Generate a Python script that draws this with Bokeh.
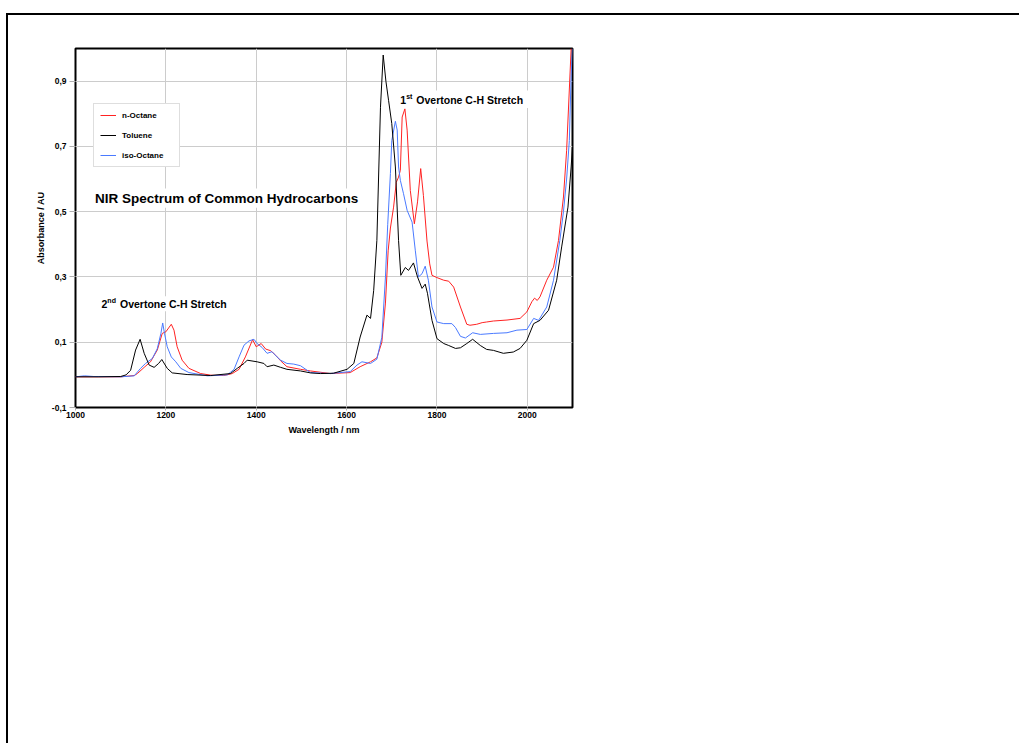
from bokeh.plotting import figure
from bokeh.models import (Range1d, FixedTicker, CustomJSTickFormatter, Label,
                          Legend, LegendItem, BoxAnnotation)
from bokeh.embed import file_html
from bokeh.resources import INLINE

# ---------------- data ----------------
series_names = ["n-Octane", "Toluene", "iso-Octane"]

noctane_wl = [1000, 1050, 1100, 1130, 1137, 1152, 1166, 1181, 1192, 1200,
              1212, 1218, 1225, 1236, 1251, 1277, 1300, 1328, 1347, 1362,
              1376, 1392, 1400, 1411, 1421, 1432, 1443, 1454, 1468, 1498,
              1520, 1564, 1608, 1630, 1653, 1667, 1678, 1686, 1692, 1697,
              1704, 1710, 1715, 1719, 1723, 1729, 1734, 1741, 1750, 1757,
              1764, 1770, 1778, 1784, 1789, 1800, 1815, 1826, 1837, 1852,
              1866, 1873, 1888, 1900, 1910, 1925, 1955, 1984, 1999, 2010,
              2016, 2022, 2028, 2043, 2058, 2069, 2080, 2087, 2097]
noctane_abs = [-0.006, -0.006, -0.006, -0.002, 0.004, 0.023, 0.040, 0.076, 0.127, 0.132,
               0.155, 0.137, 0.086, 0.045, 0.020, 0.004, -0.001, -0.002, 0.004, 0.017,
               0.055, 0.108, 0.086, 0.096, 0.079, 0.074, 0.060, 0.043, 0.025, 0.017,
               0.012, 0.004, 0.007, 0.025, 0.040, 0.052, 0.100, 0.220, 0.380, 0.450,
               0.514, 0.590, 0.606, 0.627, 0.790, 0.815, 0.750, 0.565, 0.463, 0.530,
               0.632, 0.550, 0.410, 0.340, 0.305, 0.298, 0.290, 0.287, 0.269, 0.208,
               0.155, 0.152, 0.155, 0.160, 0.162, 0.165, 0.168, 0.173, 0.193, 0.224,
               0.235, 0.228, 0.239, 0.290, 0.330, 0.412, 0.545, 0.688, 1.000]

toluene_wl = [1000, 1050, 1100, 1112, 1122, 1133, 1143, 1152, 1163, 1174,
              1184, 1191, 1203, 1214, 1247, 1299, 1343, 1358, 1373, 1380,
              1402, 1417, 1424, 1439, 1454, 1468, 1498, 1520, 1542, 1571,
              1601, 1616, 1630, 1645, 1653, 1660, 1667, 1675, 1681, 1687,
              1693, 1700, 1708, 1715, 1720, 1730, 1737, 1748, 1757, 1767,
              1774, 1779, 1789, 1800, 1815, 1826, 1841, 1852, 1866, 1879,
              1896, 1910, 1925, 1947, 1969, 1984, 1999, 2014, 2028, 2047,
              2065, 2076, 2090, 2097, 2100]
toluene_abs = [-0.006, -0.006, -0.005, 0.000, 0.014, 0.076, 0.109, 0.066, 0.030, 0.023,
               0.035, 0.047, 0.020, 0.006, 0.001, -0.002, 0.004, 0.020, 0.035, 0.045,
               0.040, 0.035, 0.025, 0.030, 0.023, 0.017, 0.012, 0.006, 0.004, 0.005,
               0.017, 0.035, 0.116, 0.183, 0.173, 0.259, 0.412, 0.820, 0.980, 0.900,
               0.840, 0.770, 0.637, 0.412, 0.305, 0.329, 0.320, 0.343, 0.300, 0.265,
               0.278, 0.250, 0.167, 0.111, 0.096, 0.090, 0.081, 0.083, 0.096, 0.109,
               0.090, 0.078, 0.075, 0.066, 0.070, 0.081, 0.106, 0.157, 0.167, 0.198,
               0.290, 0.392, 0.514, 0.637, 0.700]

isooctane_wl = [1000, 1020, 1040, 1100, 1130, 1144, 1155, 1170, 1181, 1189,
                1193, 1197, 1203, 1212, 1222, 1233, 1251, 1292, 1336, 1351,
                1362, 1373, 1384, 1395, 1402, 1413, 1424, 1435, 1446, 1454,
                1468, 1483, 1498, 1520, 1564, 1608, 1623, 1634, 1653, 1667,
                1678, 1686, 1691, 1697, 1700, 1708, 1712, 1715, 1719, 1726,
                1734, 1745, 1752, 1759, 1767, 1774, 1781, 1789, 1800, 1815,
                1833, 1841, 1852, 1863, 1879, 1896, 1925, 1955, 1977, 1999,
                2014, 2025, 2043, 2058, 2072, 2080, 2087, 2093, 2097, 2100]
isooctane_abs = [-0.006, -0.003, -0.005, -0.006, -0.003, 0.020, 0.035, 0.050, 0.080, 0.127,
                 0.159, 0.127, 0.086, 0.055, 0.040, 0.020, 0.007, -0.003, 0.000, 0.017,
                 0.055, 0.091, 0.104, 0.109, 0.096, 0.084, 0.066, 0.071, 0.055, 0.045,
                 0.035, 0.033, 0.028, 0.007, 0.004, 0.010, 0.030, 0.040, 0.035, 0.048,
                 0.115, 0.300, 0.460, 0.617, 0.718, 0.777, 0.750, 0.637, 0.596, 0.555,
                 0.504, 0.468, 0.382, 0.300, 0.310, 0.333, 0.290, 0.208, 0.162, 0.157,
                 0.157, 0.145, 0.118, 0.113, 0.129, 0.124, 0.127, 0.129, 0.137, 0.139,
                 0.173, 0.167, 0.208, 0.290, 0.412, 0.500, 0.600, 0.718, 0.920, 1.000]

x_ticks = [1000, 1200, 1400, 1600, 1800, 2000]
y_ticks = [-0.1, 0.1, 0.3, 0.5, 0.7, 0.9]

title_text = "NIR Spectrum of Common Hydrocarbons"
x_label = "Wavelength / nm"
y_label = "Absorbance / AU"
overtone_text = "Overtone C-H Stretch"

# ---------------- styling / layout ----------------
FONT = "Liberation Sans"
RED = "#ff2222"
BLACK = "#000000"
BLUE = "#4a7aff"

p = figure(width=1013, height=730,
           x_range=Range1d(1000, 2100), y_range=Range1d(-0.1, 1.0),
           output_backend="svg", toolbar_location=None,
           min_border_left=67, min_border_right=449,
           min_border_top=33, min_border_bottom=338)
# outer page frame (left and top edges visible in the reference)
p.styles = {"border-left": "2px solid black", "border-top": "2px solid black",
            "margin-left": "6px", "margin-top": "13px"}

p.background_fill_color = "white"
p.border_fill_color = "white"
p.outline_line_color = "black"
p.outline_line_width = 2

r_red = p.line(noctane_wl, noctane_abs, line_color=RED, line_width=1)
r_blue = p.line(isooctane_wl, isooctane_abs, line_color=BLUE, line_width=1)
r_black = p.line(toluene_wl, toluene_abs, line_color=BLACK, line_width=1)

# axes
p.xaxis.ticker = FixedTicker(ticks=x_ticks)
p.yaxis.ticker = FixedTicker(ticks=y_ticks)
p.yaxis.formatter = CustomJSTickFormatter(code="return tick.toFixed(1).replace('.', ',');")
for ax in (p.xaxis[0], p.yaxis[0]):
    ax.axis_line_color = None
    ax.major_tick_line_color = "#b0b0b0"
    ax.minor_tick_line_color = None
    ax.major_tick_in = 0
    ax.major_label_text_font = FONT
    ax.major_label_text_font_size = "8.5px"
    ax.major_label_text_font_style = "bold"
    ax.major_label_text_color = "black"
    ax.axis_label_text_font = FONT
    ax.axis_label_text_font_size = "9px"
    ax.axis_label_text_font_style = "bold"
    ax.axis_label_text_color = "black"
p.xaxis.major_tick_out = 3
p.xaxis.major_label_standoff = 1
p.xaxis.axis_label = x_label
p.xaxis.axis_label_standoff = 4
p.yaxis.major_tick_out = 6
p.yaxis.major_label_standoff = 3
p.yaxis.axis_label = y_label
p.yaxis.axis_label_standoff = 3

p.xgrid.ticker = FixedTicker(ticks=x_ticks)
p.ygrid.ticker = FixedTicker(ticks=y_ticks)
p.grid.grid_line_color = "#cccccc"
p.grid.grid_line_width = 1

# legend
legend = Legend(items=[LegendItem(label=series_names[0], renderers=[r_red]),
                       LegendItem(label=series_names[1], renderers=[r_black]),
                       LegendItem(label=series_names[2], renderers=[r_blue])],
                location=(18, 240))
legend.label_text_font = FONT
legend.label_text_font_size = "8px"
legend.label_text_font_style = "bold"
legend.label_text_color = "black"
legend.glyph_width = 16
legend.glyph_height = 10
legend.label_height = 10
legend.label_width = 51
legend.label_standoff = 6
legend.spacing = 10
legend.padding = 6
legend.border_line_color = "#bdbdbd"
legend.border_line_width = 1
legend.background_fill_color = "white"
legend.background_fill_alpha = 1.0
p.add_layout(legend)

# white boxes behind the text annotations (they hide the grid in the reference)
def white_box(left, right, bottom, top):
    p.add_layout(BoxAnnotation(left=left, right=right, bottom=bottom, top=top,
                               fill_color="white", fill_alpha=1.0,
                               line_color=None, line_alpha=0))

white_box(1036, 1635, 0.512, 0.571)   # title
white_box(1049, 1343, 0.195, 0.241)   # 2nd overtone
white_box(1712, 2002, 0.818, 0.871)   # 1st overtone

def add_text(x, y, text, size):
    p.add_layout(Label(x=x, y=y, text=text, text_font=FONT, text_font_size=size,
                       text_font_style="bold", text_color="black",
                       text_align="left", text_baseline="middle"))

add_text(1043, 0.541, title_text, "13.5px")

# 2nd overtone annotation (with superscript)
add_text(1057.5, 0.218, "2", "10.5px")
add_text(1070.5, 0.228, "nd", "7px")
add_text(1098.5, 0.218, overtone_text, "10.5px")

# 1st overtone annotation (with superscript)
add_text(1718.9, 0.843, "1", "10.5px")
add_text(1731.9, 0.853, "st", "7px")
add_text(1754.3, 0.843, overtone_text, "10.5px")

open("out.html", "w").write(file_html(p, INLINE))
